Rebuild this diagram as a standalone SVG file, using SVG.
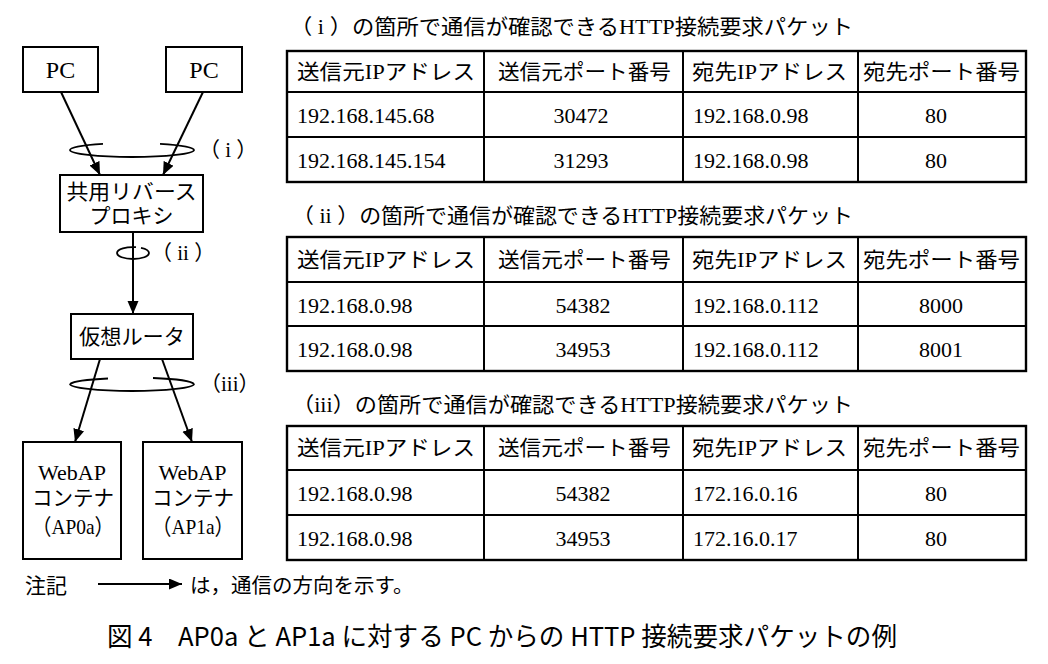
<svg xmlns="http://www.w3.org/2000/svg" width="1048" height="664" viewBox="0 0 1048 664">
<style>
  .box{fill:#fff;stroke:#000;stroke-width:2}
  .ln{fill:none;stroke:#000;stroke-width:2}
  .ring{fill:none;stroke:#000;stroke-width:1.8}
  .tb{fill:none;stroke:#000;stroke-width:2}
  .tbo{fill:none;stroke:#000;stroke-width:2.4}
  .t{font-family:"Liberation Serif","Noto Sans CJK JP",serif;font-size:21px;fill:#000;dominant-baseline:central}
  .n{font-family:"Liberation Serif","Noto Sans CJK JP",serif;font-size:22px;fill:#000;dominant-baseline:central}
  .big{font-size:24px}
  .c{text-anchor:middle}
  .g{font-family:"Noto Sans CJK JP","DejaVu Sans",sans-serif;fill:#000;dominant-baseline:central}
</style>
<defs>
  <marker id="ah" markerUnits="userSpaceOnUse" markerWidth="14" markerHeight="12" refX="13" refY="5.5" orient="auto">
    <path d="M0,0 L13,5.5 L0,11 z" fill="#000"/>
  </marker>
</defs>

<g id="connectors">
  <line class="ln" x1="61" y1="92" x2="100" y2="175" marker-end="url(#ah)"/>
  <line class="ln" x1="203" y1="92" x2="163" y2="175" marker-end="url(#ah)"/>
  <line class="ln" x1="133" y1="232" x2="133" y2="314" marker-end="url(#ah)"/>
  <line class="ln" x1="100" y1="359" x2="75" y2="442" marker-end="url(#ah)"/>
  <line class="ln" x1="162" y1="359" x2="192" y2="442" marker-end="url(#ah)"/>
</g>

<g id="ring-i">
  <path class="ring" d="M70,150 A62,7 0 0 0 194,150"/>
  <path class="ring" d="M70,150 A62,7 0 0 1 103,143.8"/>
  <path class="ring" d="M160,143.8 A62,7 0 0 1 194,150"/>
  <text class="t" x="199" y="150">（ i ）</text>
</g>
<g id="ring-ii">
  <path class="ring" d="M117,253 A16,6 0 0 0 149,253"/>
  <path class="ring" d="M117,253 A16,6 0 0 1 136,247.2"/>
  <path class="ring" d="M141,247.8 A16,6 0 0 1 149,253"/>
  <text class="t" x="151" y="253">（ ii ）</text>
</g>
<g id="ring-iii">
  <path class="ring" d="M70,384 A62,7 0 0 0 194,384"/>
  <path class="ring" d="M70,384 A62,7 0 0 1 108,378.5"/>
  <path class="ring" d="M153,378 A62,7 0 0 1 194,384"/>
  <text class="t" x="200" y="384">（iii）</text>
</g>

<g id="pc1">
  <rect class="box" x="23" y="47" width="75" height="45"/>
  <text class="n big c" x="60.5" y="70">PC</text>
</g>
<g id="pc2">
  <rect class="box" x="166" y="47" width="76" height="45"/>
  <text class="n big c" x="204" y="70">PC</text>
</g>
<g id="proxy">
  <rect class="box" x="60" y="175" width="143" height="57"/>
  <text class="t c" x="131.5" y="192" textLength="130" lengthAdjust="spacingAndGlyphs">共用リバース</text>
  <text class="t c" x="131.5" y="216">プロキシ</text>
</g>
<g id="router">
  <rect class="box" x="71" y="314" width="122" height="45"/>
  <text class="t c" x="132" y="337" textLength="106" lengthAdjust="spacingAndGlyphs">仮想ルータ</text>
</g>
<g id="ap0a">
  <rect class="box" x="23" y="442" width="98" height="117"/>
  <text class="n c" x="72" y="472">WebAP</text>
  <text class="t c" x="73" y="498" textLength="82" lengthAdjust="spacingAndGlyphs">コンテナ</text>
  <text class="n c" x="73" y="526" textLength="82" lengthAdjust="spacingAndGlyphs">（AP0a）</text>
</g>
<g id="ap1a">
  <rect class="box" x="143" y="442" width="99" height="117"/>
  <text class="n c" x="192.5" y="472">WebAP</text>
  <text class="t c" x="193" y="498" textLength="82" lengthAdjust="spacingAndGlyphs">コンテナ</text>
  <text class="n c" x="193" y="526" textLength="82" lengthAdjust="spacingAndGlyphs">（AP1a）</text>
</g>

<g id="note">
  <text class="g" x="25" y="584" font-size="21">注記</text>
  <line class="ln" x1="98" y1="584" x2="182" y2="584" marker-end="url(#ah)"/>
  <text class="g" x="190" y="584" font-size="20.5">は，通信の方向を示す。</text>
</g>

<g id="table-i">
  <text class="t" x="290" y="27" textLength="563" lengthAdjust="spacingAndGlyphs">（ i ）の箇所で通信が確認できるHTTP接続要求パケット</text>
  <rect class="tbo" x="287" y="51" width="739" height="131"/>
  <line class="tb" x1="287" y1="92" x2="1026" y2="92"/>
  <line class="tb" x1="287" y1="137" x2="1026" y2="137"/>
  <line class="tb" x1="484" y1="51" x2="484" y2="182"/>
  <line class="tb" x1="683" y1="51" x2="683" y2="182"/>
  <line class="tb" x1="858" y1="51" x2="858" y2="182"/>
  <text class="t" x="297" y="72" textLength="178" lengthAdjust="spacingAndGlyphs">送信元IPアドレス</text>
  <text class="t" x="498" y="72" textLength="173" lengthAdjust="spacingAndGlyphs">送信元ポート番号</text>
  <text class="t" x="692" y="72" textLength="155" lengthAdjust="spacingAndGlyphs">宛先IPアドレス</text>
  <text class="t" x="863" y="72" textLength="157" lengthAdjust="spacingAndGlyphs">宛先ポート番号</text>
  <text class="n" x="297" y="115">192.168.145.68</text>
  <text class="n c" x="581" y="115">30472</text>
  <text class="n" x="693" y="115">192.168.0.98</text>
  <text class="n c" x="936" y="115">80</text>
  <text class="n" x="297" y="160">192.168.145.154</text>
  <text class="n c" x="581" y="160">31293</text>
  <text class="n" x="693" y="160">192.168.0.98</text>
  <text class="n c" x="936" y="160">80</text>
</g>

<g id="table-ii">
  <text class="t" x="292" y="216" textLength="561" lengthAdjust="spacingAndGlyphs">（ ii ）の箇所で通信が確認できるHTTP接続要求パケット</text>
  <rect class="tbo" x="287" y="237" width="739" height="134"/>
  <line class="tb" x1="287" y1="282" x2="1026" y2="282"/>
  <line class="tb" x1="287" y1="326" x2="1026" y2="326"/>
  <line class="tb" x1="484" y1="237" x2="484" y2="371"/>
  <line class="tb" x1="683" y1="237" x2="683" y2="371"/>
  <line class="tb" x1="858" y1="237" x2="858" y2="371"/>
  <text class="t" x="297" y="260" textLength="178" lengthAdjust="spacingAndGlyphs">送信元IPアドレス</text>
  <text class="t" x="498" y="260" textLength="173" lengthAdjust="spacingAndGlyphs">送信元ポート番号</text>
  <text class="t" x="692" y="260" textLength="155" lengthAdjust="spacingAndGlyphs">宛先IPアドレス</text>
  <text class="t" x="863" y="260" textLength="157" lengthAdjust="spacingAndGlyphs">宛先ポート番号</text>
  <text class="n" x="297" y="305">192.168.0.98</text>
  <text class="n c" x="583" y="305">54382</text>
  <text class="n" x="693" y="305">192.168.0.112</text>
  <text class="n c" x="941" y="305">8000</text>
  <text class="n" x="297" y="349">192.168.0.98</text>
  <text class="n c" x="583" y="349">34953</text>
  <text class="n" x="693" y="349">192.168.0.112</text>
  <text class="n c" x="941" y="349">8001</text>
</g>

<g id="table-iii">
  <text class="t" x="292" y="405" textLength="561" lengthAdjust="spacingAndGlyphs">（iii）の箇所で通信が確認できるHTTP接続要求パケット</text>
  <rect class="tbo" x="287" y="426" width="739" height="134"/>
  <line class="tb" x1="287" y1="470" x2="1026" y2="470"/>
  <line class="tb" x1="287" y1="515" x2="1026" y2="515"/>
  <line class="tb" x1="484" y1="426" x2="484" y2="560"/>
  <line class="tb" x1="683" y1="426" x2="683" y2="560"/>
  <line class="tb" x1="858" y1="426" x2="858" y2="560"/>
  <text class="t" x="297" y="448" textLength="178" lengthAdjust="spacingAndGlyphs">送信元IPアドレス</text>
  <text class="t" x="498" y="448" textLength="173" lengthAdjust="spacingAndGlyphs">送信元ポート番号</text>
  <text class="t" x="692" y="448" textLength="155" lengthAdjust="spacingAndGlyphs">宛先IPアドレス</text>
  <text class="t" x="863" y="448" textLength="157" lengthAdjust="spacingAndGlyphs">宛先ポート番号</text>
  <text class="n" x="297" y="493">192.168.0.98</text>
  <text class="n c" x="583" y="493">54382</text>
  <text class="n" x="693" y="493">172.16.0.16</text>
  <text class="n c" x="936" y="493">80</text>
  <text class="n" x="297" y="538">192.168.0.98</text>
  <text class="n c" x="583" y="538">34953</text>
  <text class="n" x="693" y="538">172.16.0.17</text>
  <text class="n c" x="936" y="538">80</text>
</g>

<g id="caption">
  <text class="g" x="107" y="634" font-size="26" textLength="790" lengthAdjust="spacingAndGlyphs">図 4　AP0a と AP1a に対する PC からの HTTP 接続要求パケットの例</text>
</g>
</svg>
